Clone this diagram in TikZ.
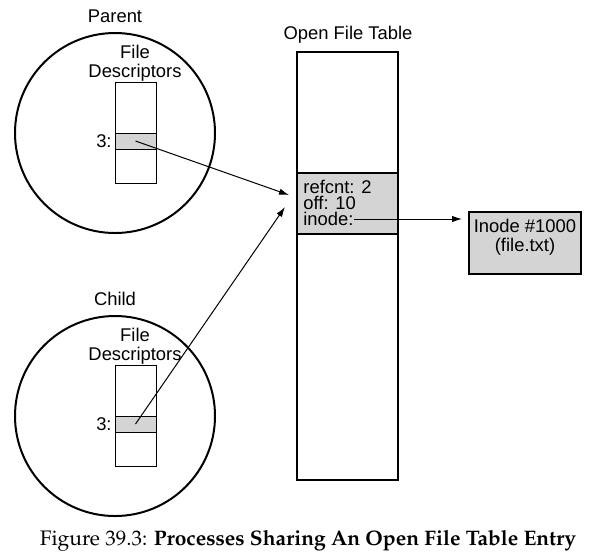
\documentclass[tikz,border=0pt]{standalone}
\usepackage{fontspec}
\setmainfont{Liberation Sans}
\usetikzlibrary{arrows.meta}
\definecolor{slotgray}{RGB}{212,212,212}
\tikzset{
  proc/.style={circle, draw, line width=1pt, minimum size=100pt, inner sep=0pt},
  fdbox/.style={rectangle, draw, line width=0.5pt, minimum width=20.5pt, minimum height=50.5pt, inner sep=0pt},
  fdslot/.style={rectangle, draw, fill=slotgray, line width=0.5pt, minimum width=20.5pt, minimum height=8pt, inner sep=0pt},
  lbl/.style={font=\fontsize{9.2}{9.5}\selectfont, inner sep=0pt, align=center},
  ptr/.style={-{Latex[length=5pt,width=3.2pt]}, line width=0.5pt},
}
\begin{document}
\begin{tikzpicture}[x=0.5pt, y=-0.5pt]
            \useasboundingbox (0,0) rectangle (592,559);
            % parent process
            \node [proc] (parent) at (115,133) {};
            \node [lbl] (parentlbl) at (115,16) {Parent};
            \node [lbl] (pfdlbl) at (135,63) {File\\Descriptors};
            \node [fdbox] (pfd) at (135.5,132.5) {};
            \node [fdslot] (pslot) at (135.5,141) {};
            \node [lbl, anchor=east] (pthree) at (112,141) {3:};
            % child process
            \node [proc] (child) at (115,416) {};
            \node [lbl] (childlbl) at (115,299) {Child};
            \node [lbl] (cfdlbl) at (135,346) {File\\Descriptors};
            \node [fdbox] (cfd) at (135.5,415.5) {};
            \node [fdslot] (cslot) at (135.5,424) {};
            \node [lbl, anchor=east] (cthree) at (112,424) {3:};
            % open file table
            \node [lbl] (oftlbl) at (348,35) {Open File Table};
            \node [rectangle, draw, line width=0.6pt, minimum width=50.5pt, minimum height=214pt, inner sep=0pt] (oft) at (347.5,266) {};
            \node [rectangle, draw, fill=slotgray, line width=0.9pt, minimum width=50.5pt, minimum height=30.5pt, inner sep=0pt] (entry) at (347.5,203.5) {};
            \node [lbl, anchor=west] (refcnt) at (303,187) {refcnt: 2};
            \node [lbl, anchor=west] (off) at (303,203) {off: 10};
            \node [lbl, anchor=west] (inodef) at (303,219) {inode:};
            % inode
            \node [rectangle, draw, fill=slotgray, line width=0.9pt, minimum width=56pt, minimum height=31pt, inner sep=0pt] (inode) at (525,243) {};
            \node [lbl] (inodetxt) at (525,237) {Inode \#1000\\(file.txt)};
            % pointers
            \coordinate (pin) at (289,195);
            \coordinate (cin) at (285,207);
            \coordinate (iin) at (462,219);
            \draw [ptr] (pslot.center) -- (pin);
            \draw [ptr] (cslot.center) -- (cin);
            \draw [ptr] (inodef.east) -- (iin);
            % caption
            \node [inner sep=0pt, font=\fontencoding{T1}\fontfamily{ppl}\fontsize{10.5}{12}\selectfont] (caption) at (308,541)
              {Figure 39.3: \textbf{Processes Sharing An Open File Table Entry}};
        \end{tikzpicture}
\end{document}
